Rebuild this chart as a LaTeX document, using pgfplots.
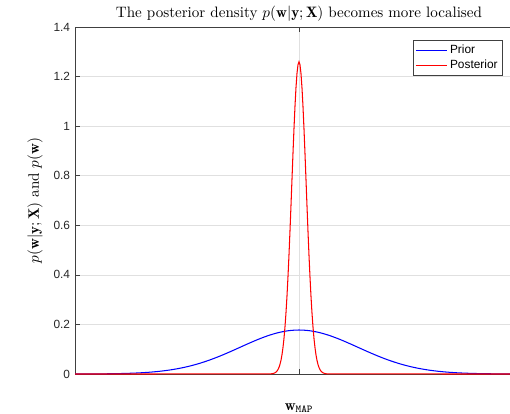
\documentclass[border=0pt]{standalone}
\usepackage{fontspec}
\usepackage{pgfplots}
\pgfplotsset{compat=1.18}
\newfontfamily\arial{Liberation Sans}
\definecolor{gridc}{rgb}{0.88,0.88,0.88}
\definecolor{axc}{rgb}{0.25,0.25,0.25}
\definecolor{pred}{rgb}{1,0,0}
\definecolor{pblue}{rgb}{0,0,1}
\begin{document}
\begin{tikzpicture}
\path[use as bounding box] (0pt,0pt) rectangle (365pt,296.3pt);
\clip (0pt,0pt) rectangle (365pt,296.3pt);
\begin{axis}[
  at={(53.68pt,28.63pt)}, anchor=south west,
  scale only axis, width=320.6pt, height=248.3pt,
  xmin=-22.4, xmax=22.4, ymin=0, ymax=1.4,
  xtick={0}, xticklabels={},
  ytick={0,0.2,0.4,0.6,0.8,1,1.2,1.4},
  ymajorgrids, xmajorgrids,
  grid style={gridc, line width=0.5pt},
  axis line style={axc, line width=0.5pt},
  tick style={axc, line width=0.5pt},
  tick align=inside, major tick length=3.5pt,
  /pgf/number format/assume math mode=true,
  tick label style={font=\arial\fontsize{8.5}{10}\selectfont, text=black!85},
  every axis title shift=0pt,
  title={The posterior density $p(\mathbf{w}|\mathbf{y};\mathbf{X})$ becomes more localised},
  title style={at={(axis description cs:0.5,1.038)}, anchor=center, yshift=0pt, inner sep=0pt,
    font=\fontsize{10.8}{13}\selectfont},
  ylabel={$p(\mathbf{w}|\mathbf{y};\mathbf{X})$ and $p(\mathbf{w})$},
  ylabel style={at={(axis description cs:-0.0893,0.5)}, anchor=center, inner sep=0pt,
    font=\fontsize{10.8}{13}\selectfont},
  xlabel={$\mathbf{w}_{\mathtt{MAP}}$},
  xlabel style={at={(axis description cs:0.5,-0.098)}, anchor=center, inner sep=0pt,
    font=\fontsize{10.8}{13}\selectfont},
  legend style={at={(0.955,0.9625)}, anchor=north east, draw=axc, line width=0.5pt,
    font=\arial\fontsize{8.5}{10}\selectfont, inner sep=1.5pt, row sep=-1pt},
  legend cell align=left,
  clip=false,
]
\addplot[color=pblue, line width=0.75pt, smooth,
  legend image code/.code={\draw[pblue, line width=0.75pt] (0pt,0pt) -- (22pt,0pt);}] coordinates {
(-22.4,0.00015) (-22,0.00017) (-21,0.00031) (-20,0.00057) (-19,0.00099) (-18,0.00169)
(-17,0.00279) (-16,0.00449) (-15,0.00701) (-14,0.01063) (-13,0.01567) (-12,0.02244)
(-11,0.03122) (-10,0.04221) (-9,0.05545) (-8,0.07079) (-7,0.08781) (-6,0.10583)
(-5,0.12395) (-4,0.14106) (-3,0.15598) (-2,0.16759) (-1,0.17497) (0,0.17750)
(1,0.17497) (2,0.16759) (3,0.15598) (4,0.14106) (5,0.12395) (6,0.10583)
(7,0.08781) (8,0.07079) (9,0.05545) (10,0.04221) (11,0.03122) (12,0.02244)
(13,0.01567) (14,0.01063) (15,0.00701) (16,0.00449) (17,0.00279) (18,0.00169)
(19,0.00099) (20,0.00057) (21,0.00031) (22,0.00017) (22.4,0.00015)
};
\addlegendentry{Prior}
\addplot[color=pred, line width=0.75pt,
  legend image code/.code={\draw[pred, line width=0.75pt] (0pt,0pt) -- (22pt,0pt);}] coordinates {
(-22.4,0) (-3.0,0.00020) (-2.8,0.00065) (-2.7,0.00111) (-2.6,0.00186) (-2.5,0.00304)
(-2.4,0.00487) (-2.3,0.00766) (-2.2,0.01182) (-2.1,0.01791) (-2.0,0.02659)
(-1.9,0.03875) (-1.8,0.05536) (-1.7,0.07759) (-1.6,0.10667) (-1.5,0.14387)
(-1.4,0.19027) (-1.3,0.24687) (-1.2,0.31418) (-1.1,0.39224) (-1.0,0.48027)
(-0.9,0.57687) (-0.8,0.67964) (-0.7,0.78546) (-0.6,0.89038) (-0.5,0.99002)
(-0.4,1.07982) (-0.3,1.15523) (-0.2,1.21232) (-0.1,1.24790) (0,1.26000)
(0.1,1.24790) (0.2,1.21232) (0.3,1.15523) (0.4,1.07982) (0.5,0.99002)
(0.6,0.89038) (0.7,0.78546) (0.8,0.67964) (0.9,0.57687) (1.0,0.48027)
(1.1,0.39224) (1.2,0.31418) (1.3,0.24687) (1.4,0.19027) (1.5,0.14387)
(1.6,0.10667) (1.7,0.07759) (1.8,0.05536) (1.9,0.03875) (2.0,0.02659)
(2.1,0.01791) (2.2,0.01182) (2.3,0.00766) (2.4,0.00487) (2.5,0.00304)
(2.6,0.00186) (2.7,0.00111) (2.8,0.00065) (3.0,0.00020) (22.4,0)
};
\addlegendentry{Posterior}
\end{axis}
\end{tikzpicture}
\end{document}
